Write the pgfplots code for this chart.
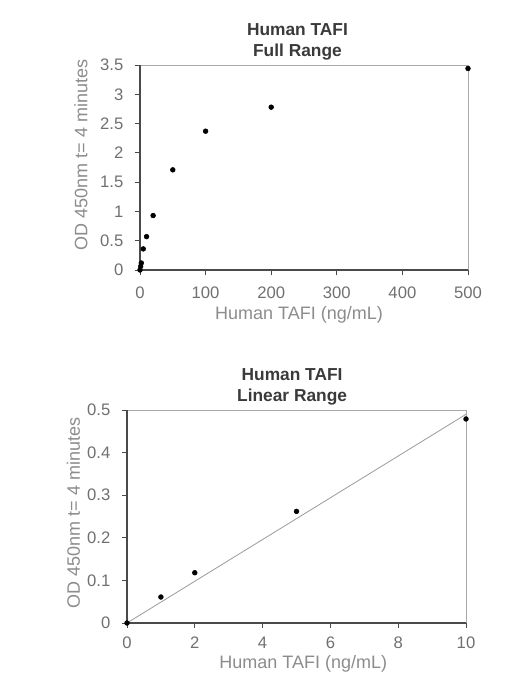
\documentclass[border=0pt]{standalone}
\usepackage{pgfplots}
\pgfplotsset{compat=1.18}
\usepackage{fontspec}
\setmainfont{Liberation Sans}
\definecolor{axdark}{HTML}{4A4A4A}
\definecolor{axlight}{HTML}{A8A8A8}
\definecolor{ticktxt}{HTML}{707070}
\definecolor{labtxt}{HTML}{8C8C8C}
\definecolor{titletxt}{HTML}{3A3A3A}
\definecolor{fitline}{HTML}{9A9A9A}
\pgfplotsset{
  mystyle/.style={
    scale only axis,
    clip=false,
    axis line style={draw=none},
    tick align=outside,
    major tick length=4pt,
    tick style={axdark, line width=0.6pt},
    ytick pos=left, xtick pos=bottom,
    /pgf/number format/assume math mode=true,
    every axis title shift=0pt,
    ticklabel style={font=\fontsize{12.5}{14}\selectfont, text=ticktxt},
    label style={font=\fontsize{13.5}{15}\selectfont, text=labtxt},
    title style={font=\fontsize{13}{15.8}\selectfont\bfseries, text=titletxt, align=center, anchor=center},
    yticklabel style={xshift=-5pt},
    execute at end axis={
      \draw[axlight, line width=0.6pt] (rel axis cs:0,1) -- (rel axis cs:1,1) -- (rel axis cs:1,0);
      \draw[axdark, line width=0.8pt] (rel axis cs:0,1) -- (rel axis cs:0,0) -- (rel axis cs:1,0);
    },
  }
}
\begin{document}
\begin{tikzpicture}
\path[use as bounding box] (0,0) rectangle (398.25pt,-511.5pt);
% Top: full range
\begin{axis}[mystyle,
  at={(105pt,-202.5pt)}, anchor=south west,
  width=246pt, height=153.75pt,
  xmin=0, xmax=500, ymin=0, ymax=3.5,
  xtick={0,100,200,300,400,500},
  ytick={0,0.5,1,1.5,2,2.5,3,3.5},
  yticklabels={0,0.5,1,1.5,2,2.5,3,3.5},
  xticklabel style={yshift=-5pt},
  title={Human TAFI\\Full Range},
  title style={at={(axis description cs:0.48,1.115)}},
  xlabel={Human TAFI (ng/mL)},
  xlabel style={at={(axis description cs:0.485,-0.22)}, anchor=center},
  ylabel={OD 450nm t= 4 minutes},
  ylabel style={at={(axis description cs:-0.18,0.56)}, anchor=center},
]
\addplot[only marks, mark=*, mark size=1.8pt, black] coordinates {
  (0,0.0) (1,0.06) (2,0.12) (5,0.36) (10,0.57) (20,0.93) (50,1.71) (100,2.37) (200,2.78) (500,3.44)
};
\end{axis}
% Bottom: linear range
\begin{axis}[mystyle,
  at={(95.25pt,-467.25pt)}, anchor=south west,
  width=254.25pt, height=159.75pt,
  xmin=0, xmax=10, ymin=0, ymax=0.5,
  xtick={0,2,4,6,8,10},
  ytick={0,0.1,0.2,0.3,0.4,0.5},
  yticklabels={0,0.1,0.2,0.3,0.4,0.5},
  xticklabel style={yshift=-3pt},
  title={Human TAFI\\Linear Range},
  title style={at={(axis description cs:0.487,1.11)}},
  xlabel={Human TAFI (ng/mL)},
  xlabel style={at={(axis description cs:0.52,-0.193)}, anchor=center},
  ylabel={OD 450nm t= 4 minutes},
  ylabel style={at={(axis description cs:-0.158,0.516)}, anchor=center},
]
\addplot[fitline, line width=0.6pt] coordinates {(0,0) (10,0.49)};
\addplot[only marks, mark=*, mark size=1.8pt, black] coordinates {
  (0,0.0) (1,0.061) (2,0.118) (5,0.262) (10,0.479)
};
\end{axis}
\end{tikzpicture}
\end{document}
